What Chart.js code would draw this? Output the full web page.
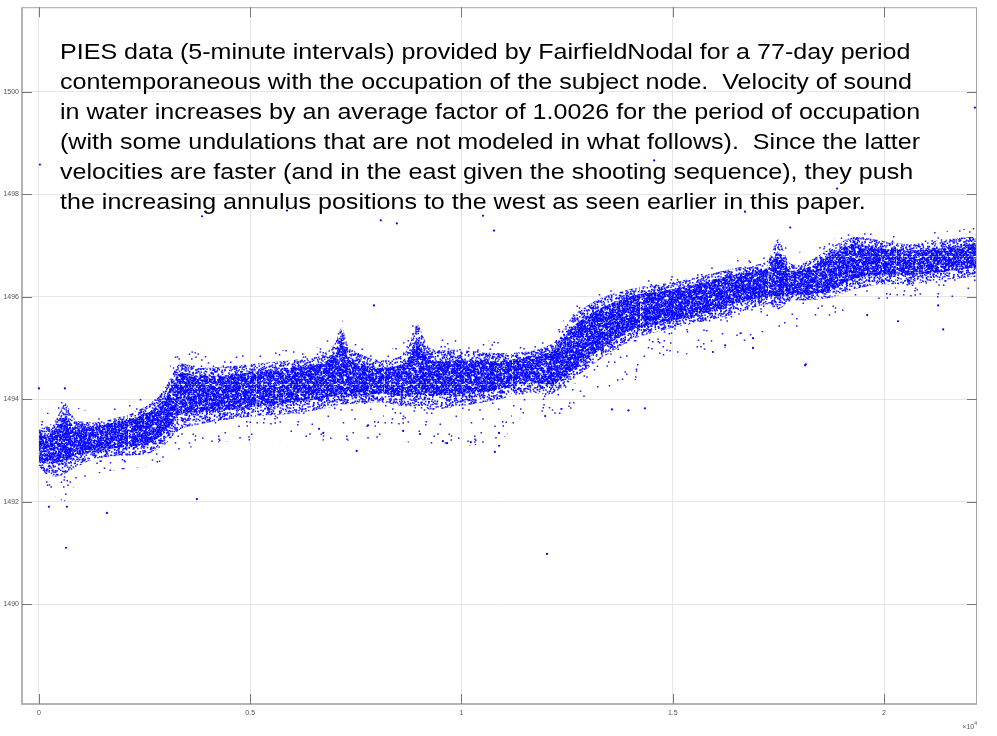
<!DOCTYPE html>
<html>
<head>
<meta charset="utf-8">
<script src="https://cdn.jsdelivr.net/npm/chart.js@4.4.0/dist/chart.umd.min.js"></script>
<style>
  html, body { margin: 0; padding: 0; background: #fff; }
  #wrap { position: relative; width: 997px; height: 736px; }
  #note {
    position: absolute; left: 60px; top: 37px;
    font: 22px/30px "Liberation Sans", Arial, Helvetica, sans-serif;
    color: #000; white-space: pre; pointer-events: none;
    transform: scaleX(1.14); transform-origin: 0 0;
  }
</style>
</head>
<body>
<div id="wrap">
  <canvas id="pies" width="997" height="736"></canvas>
  <div id="note">PIES data (5-minute intervals) provided by FairfieldNodal for a 77-day period
contemporaneous with the occupation of the subject node.  Velocity of sound
in water increases by an average factor of 1.0026 for the period of occupation
(with some undulations that are not modeled in what follows).  Since the latter
velocities are faster (and in the east given the shooting sequence), they push
the increasing annulus positions to the west as seen earlier in this paper.</div>
</div>
<script>
// sample index (5-minute steps) where the band edges were taken
const sampleIdx = [0, 150, 380, 620, 850, 1200, 1700, 2150, 2600, 2980, 3340, 3800, 4500, 5200,
  5950, 6650, 7000, 7170, 7360, 8070, 8660, 8950, 9250, 9960, 10900, 11600, 12160, 12640, 13280,
  14060, 14840, 15650, 16430, 17230, 17490, 17780, 18250, 18790, 19270, 19900, 20610, 21320, 22176];

// sound velocity (m/s): thin halo, outer spread and dense core of the samples
const haloHi = [1493.67, 1493.73, 1493.77, 1494.06, 1493.86, 1493.77, 1493.81, 1493.92, 1494.12, 1494.45,
  1494.97, 1494.90, 1494.84, 1494.90, 1494.97, 1495.03, 1495.33, 1495.56, 1495.17, 1494.94, 1495.13,
  1495.62, 1495.23, 1495.17, 1495.13, 1495.07, 1495.23, 1495.81, 1496.10, 1496.30, 1496.40, 1496.57,
  1496.73, 1496.88, 1497.23, 1496.88, 1496.92, 1497.12, 1497.31, 1497.27, 1497.21, 1497.27, 1497.35];
const outerHi = [1493.42, 1493.46, 1493.57, 1493.92, 1493.61, 1493.55, 1493.61, 1493.71, 1493.90, 1494.22,
  1494.70, 1494.61, 1494.64, 1494.70, 1494.76, 1494.84, 1495.09, 1495.40, 1495.00, 1494.76, 1494.90,
  1495.46, 1495.00, 1494.96, 1494.90, 1494.94, 1495.09, 1495.62, 1495.97, 1496.16, 1496.26, 1496.40,
  1496.55, 1496.69, 1497.12, 1496.65, 1496.71, 1496.98, 1497.16, 1497.10, 1497.02, 1497.10, 1497.18];
const coreHi = [1493.28, 1493.30, 1493.42, 1493.66, 1493.46, 1493.46, 1493.53, 1493.61, 1493.75, 1494.02,
  1494.51, 1494.45, 1494.47, 1494.55, 1494.61, 1494.68, 1494.86, 1495.12, 1494.76, 1494.61, 1494.70,
  1495.12, 1494.76, 1494.76, 1494.74, 1494.84, 1494.94, 1495.42, 1495.77, 1496.02, 1496.12, 1496.26,
  1496.42, 1496.55, 1496.88, 1496.51, 1496.59, 1496.83, 1497.02, 1496.94, 1496.90, 1496.94, 1497.04];
const coreLo = [1492.81, 1492.75, 1492.75, 1492.81, 1492.91, 1492.95, 1493.03, 1493.08, 1493.14, 1493.34,
  1493.71, 1493.74, 1493.80, 1493.86, 1493.94, 1494.00, 1494.06, 1494.10, 1494.06, 1494.10, 1494.06,
  1494.10, 1494.06, 1494.10, 1494.19, 1494.33, 1494.29, 1494.58, 1494.97, 1495.36, 1495.50, 1495.65,
  1495.85, 1496.01, 1496.01, 1496.04, 1496.04, 1496.14, 1496.34, 1496.43, 1496.43, 1496.47, 1496.59];
const outerLo = [1492.70, 1492.55, 1492.49, 1492.55, 1492.65, 1492.80, 1492.88, 1492.90, 1492.94, 1493.12,
  1493.41, 1493.51, 1493.61, 1493.67, 1493.71, 1493.80, 1493.86, 1493.90, 1493.90, 1493.94, 1493.86,
  1493.86, 1493.80, 1493.86, 1494.00, 1494.13, 1494.10, 1494.39, 1494.78, 1495.17, 1495.36, 1495.50,
  1495.65, 1495.85, 1495.75, 1495.91, 1495.93, 1495.99, 1496.14, 1496.24, 1496.24, 1496.32, 1496.39];
const haloLo = [1492.40, 1492.21, 1492.11, 1492.01, 1492.31, 1492.50, 1492.60, 1492.64, 1492.70, 1492.79,
  1492.99, 1493.09, 1493.18, 1493.18, 1493.18, 1493.18, 1493.22, 1493.22, 1493.18, 1493.22, 1493.18,
  1493.09, 1493.09, 1493.09, 1493.18, 1493.77, 1493.57, 1493.77, 1494.16, 1494.35, 1494.74, 1494.94,
  1495.03, 1495.33, 1495.23, 1495.33, 1495.52, 1495.62, 1495.81, 1495.91, 1495.91, 1495.97, 1495.99];

// isolated samples away from the band
const strayIdx = [0, 24, 615, 237, 663, 640, 1610, 3740, 12025, 10770, 8470, 14560, 18890, 16710, 10510,
  8090, 3860, 5870, 11380, 7600, 22150, 17780, 18130, 20330, 21400, 19600, 15950, 16240, 16900, 16900,
  21280, 7930, 7520, 10790, 10890, 10890, 10220, 9560, 9660, 9020, 8620, 6730, 6630, 11980, 7790,
  13560, 13950, 14340, 18150];
const strayVel = [1494.21, 1498.58, 1494.21, 1491.90, 1491.90, 1491.10, 1491.78, 1492.05, 1490.98, 1497.29,
  1497.43, 1498.66, 1498.11, 1497.66, 1497.58, 1497.49, 1497.57, 1497.68, 1500.14, 1500.76, 1499.69,
  1497.35, 1494.66, 1495.52, 1495.36, 1495.64, 1494.92, 1495.05, 1495.19, 1495.00, 1495.83, 1495.83,
  1492.99, 1492.97, 1493.09, 1493.34, 1493.16, 1493.18, 1493.14, 1493.32, 1493.38, 1493.34, 1493.42,
  1493.67, 1493.49, 1493.80, 1493.78, 1493.82, 1494.68];

const xTicks = [0, 5000, 10000, 15000, 20000];
const yTicks = [1490, 1492, 1494, 1496, 1498, 1500];

const canvas = document.getElementById('pies');
const ctx = canvas.getContext('2d');

// speckled blue fill so each band reads like a cloud of single samples
function speckle(rate, seed) {
  const n = 128;
  const tile = document.createElement('canvas');
  tile.width = tile.height = n;
  const g = tile.getContext('2d');
  g.fillStyle = 'rgba(0,0,255,0.9)';
  for (let y = 0; y < n; y++) {
    for (let x = 0; x < n; x++) {
      let h = Math.imul(x, 73856093) ^ Math.imul(y, 19349663) ^ Math.imul(seed, 83492791);
      h ^= h >>> 16; h = Math.imul(h, 0x85EBCA6B);
      h ^= h >>> 13; h = Math.imul(h, 0xC2B2AE35);
      h ^= h >>> 16;
      const r = (h >>> 0) % 1000;
      if (r < rate * 1000) {
        g.fillRect(x + (r % 4) / 4, y + ((r >> 2) % 4) / 4, 1.5, 1.5);
      }
    }
  }
  return ctx.createPattern(tile, 'repeat');
}

const pts = ys => sampleIdx.map((x, i) => ({ x, y: ys[i] }));
const edge = { borderWidth: 0, pointRadius: 0, tension: 0.25 };

// box, inward ticks and the x exponent, MATLAB style
const frame = {
  id: 'frame',
  afterDatasetsDraw(chart) {
    const { ctx, chartArea: a, scales: { x, y } } = chart;
    ctx.save();
    ctx.strokeStyle = '#a6a6a6';
    ctx.lineWidth = 1;
    ctx.strokeRect(a.left + 0.5, a.top + 0.5, a.right - a.left - 1, a.bottom - a.top - 1);
    ctx.strokeStyle = '#b3b3b3';
    ctx.lineWidth = 2;
    ctx.beginPath();
    ctx.moveTo(a.left, a.top); ctx.lineTo(a.left, a.bottom); ctx.lineTo(a.right, a.bottom);
    ctx.stroke();

    ctx.strokeStyle = '#777';
    ctx.lineWidth = 1;
    ctx.beginPath();
    xTicks.forEach(v => {
      const px = Math.round(x.getPixelForValue(v)) + 0.5;
      ctx.moveTo(px, a.bottom); ctx.lineTo(px, a.bottom - 10);
      ctx.moveTo(px, a.top); ctx.lineTo(px, a.top + 10);
    });
    yTicks.forEach(v => {
      const py = Math.round(y.getPixelForValue(v)) + 0.5;
      ctx.moveTo(a.left, py); ctx.lineTo(a.left + 10, py);
      ctx.moveTo(a.right, py); ctx.lineTo(a.right - 10, py);
    });
    ctx.stroke();

    ctx.fillStyle = '#555';
    ctx.textBaseline = 'alphabetic';
    ctx.textAlign = 'right';
    ctx.font = '5px "Liberation Sans", Arial, sans-serif';
    ctx.fillText('4', a.right, a.bottom + 21);
    const w = ctx.measureText('4').width;
    ctx.font = '7px "Liberation Sans", Arial, sans-serif';
    ctx.fillText('\u00d710', a.right - w, a.bottom + 25);
    ctx.restore();
  }
};

new Chart(canvas, {
  type: 'line',
  data: {
    datasets: [
      { data: pts(haloHi), fill: false, order: 4, ...edge },
      { data: pts(haloLo), fill: 0, backgroundColor: speckle(0.012, 5), order: 4, ...edge },
      { data: pts(outerHi), fill: false, order: 3, ...edge },
      { data: pts(outerLo), fill: 2, backgroundColor: speckle(0.22, 3), order: 3, ...edge },
      { data: pts(coreHi), fill: false, order: 2, ...edge },
      { data: pts(coreLo), fill: 4, backgroundColor: speckle(0.46, 11), order: 2, ...edge },
      {
        data: strayIdx.map((x, i) => ({ x, y: strayVel[i] })),
        showLine: false, pointRadius: 1.1, pointBorderWidth: 0,
        pointBackgroundColor: '#0000ff', order: 1
      }
    ]
  },
  options: {
    responsive: false,
    animation: false,
    layout: { padding: { top: 6, right: 20, left: 0, bottom: 0 } },
    plugins: { legend: { display: false }, tooltip: { enabled: false } },
    scales: {
      x: {
        type: 'linear', min: -400, max: 22200,
        afterBuildTicks: s => { s.ticks = xTicks.map(v => ({ value: v })); },
        afterFit: s => { s.height = 32; },
        border: { display: false },
        grid: { color: '#e6e6e6', drawTicks: false },
        ticks: {
          padding: 5, color: '#555', maxRotation: 0,
          font: { size: 7, family: '"Liberation Sans", Arial, sans-serif' },
          callback: v => String(v / 10000)
        }
      },
      y: {
        min: 1488.05, max: 1501.65,
        afterBuildTicks: s => { s.ticks = yTicks.map(v => ({ value: v })); },
        afterFit: s => { s.width = 22; },
        border: { display: false },
        grid: { color: '#e6e6e6', drawTicks: false },
        ticks: {
          padding: 3, color: '#555',
          font: { size: 7, family: '"Liberation Sans", Arial, sans-serif' },
          callback: v => String(v)
        }
      }
    }
  },
  plugins: [frame]
});
</script>
</body>
</html>
